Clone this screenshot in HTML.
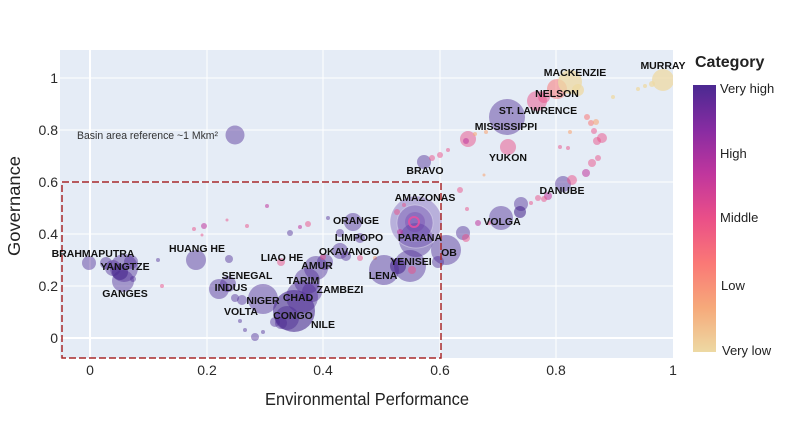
<!DOCTYPE html>
<html><head><meta charset="utf-8"><style>
html,body{margin:0;padding:0;background:#fff;}
svg{display:block;font-family:"Liberation Sans",Arial,sans-serif;}
.P{fill:rgba(80,46,150,0.46);}
.D{fill:rgba(70,38,140,0.58);}
.M{fill:rgba(192,54,157,0.55);}
.K{fill:rgba(234,79,136,0.5);}
.S{fill:rgba(250,120,118,0.55);}
.O{fill:rgba(246,169,122,0.6);}
.Y{fill:rgba(237,217,163,0.75);}
.lb{font-weight:bold;font-size:10.5px;fill:#111;text-anchor:middle;}
.tk{font-size:14px;fill:#2a2a2a;}
</style></head><body>
<svg width="800" height="427" viewBox="0 0 800 427" xmlns="http://www.w3.org/2000/svg">
<defs>
<linearGradient id="cb" x1="0" y1="0" x2="0" y2="1">
<stop offset="0" stop-color="#4b2991"/>
<stop offset="0.1667" stop-color="#872ca2"/>
<stop offset="0.3333" stop-color="#c0369d"/>
<stop offset="0.5" stop-color="#ea4f88"/>
<stop offset="0.6667" stop-color="#fa7876"/>
<stop offset="0.8333" stop-color="#f6a97a"/>
<stop offset="1" stop-color="#edd9a3"/>
</linearGradient>
<clipPath id="pc"><rect x="60" y="50" width="613" height="308"/></clipPath>
</defs>
<rect x="60" y="50" width="613" height="308" fill="#e5ecf6"/>
<g stroke="#fff" stroke-width="1">
<line x1="90" y1="50" x2="90" y2="358" stroke-width="2"/>
<line x1="207" y1="50" x2="207" y2="358"/>
<line x1="323" y1="50" x2="323" y2="358"/>
<line x1="440" y1="50" x2="440" y2="358"/>
<line x1="556" y1="50" x2="556" y2="358"/>
<line x1="60" y1="338" x2="673" y2="338" stroke-width="2"/>
<line x1="60" y1="286" x2="673" y2="286"/>
<line x1="60" y1="234" x2="673" y2="234"/>
<line x1="60" y1="182" x2="673" y2="182"/>
<line x1="60" y1="130" x2="673" y2="130"/>
<line x1="60" y1="78" x2="673" y2="78"/>
</g>
<g clip-path="url(#pc)">
<!-- left cluster -->
<circle class="P" cx="89" cy="263" r="7"/>
<circle class="P" cx="106" cy="263" r="6"/>
<circle class="P" cx="113" cy="268" r="8"/>
<circle class="P" cx="124" cy="268" r="14"/>
<circle class="P" cx="123" cy="281" r="11"/>
<circle class="P" cx="131" cy="262" r="7"/>
<circle class="P" cx="133" cy="279" r="3"/>
<circle class="D" cx="120" cy="272" r="8"/>
<circle class="P" cx="158" cy="260" r="2"/>
<circle class="K" cx="162" cy="286" r="2"/>
<circle class="P" cx="196" cy="260" r="10"/>
<circle class="P" cx="229" cy="259" r="4"/>
<circle class="K" cx="194" cy="229" r="2"/>
<circle class="M" cx="204" cy="226" r="3"/>
<circle class="K" cx="202" cy="235" r="1.5"/>
<circle class="K" cx="227" cy="220" r="1.5"/>
<circle class="K" cx="247" cy="226" r="2"/>
<circle class="M" cx="267" cy="206" r="2"/>
<!-- Indus / Niger / Congo -->
<circle class="P" cx="219" cy="289" r="10"/>
<circle class="P" cx="228" cy="284" r="8"/>
<circle class="P" cx="235" cy="298" r="4"/>
<circle class="P" cx="242" cy="300" r="5"/>
<circle class="P" cx="263" cy="299" r="15"/>
<circle class="P" cx="240" cy="321" r="2"/>
<circle class="P" cx="245" cy="330" r="2"/>
<circle class="P" cx="255" cy="337" r="4"/>
<circle class="P" cx="263" cy="332" r="2"/>
<circle class="P" cx="275" cy="322" r="5"/>
<circle class="P" cx="281" cy="323" r="6"/>
<circle class="P" cx="287" cy="318" r="12"/>
<circle class="D" cx="294" cy="311" r="21"/>
<circle class="P" cx="302" cy="297" r="16"/>
<circle class="P" cx="307" cy="281" r="13"/>
<circle class="P" cx="316" cy="268" r="12"/>
<circle class="P" cx="325" cy="262" r="8"/>
<circle class="P" cx="312" cy="292" r="10"/>
<circle class="K" cx="281" cy="262" r="4"/>
<circle class="P" cx="290" cy="233" r="3"/>
<circle class="M" cx="300" cy="227" r="2"/>
<circle class="K" cx="308" cy="224" r="3"/>
<circle class="K" cx="323" cy="257" r="3"/>
<!-- Orange / Limpopo / Okavango -->
<circle class="P" cx="353" cy="222" r="9"/>
<circle class="P" cx="340" cy="233" r="4"/>
<circle class="P" cx="328" cy="218" r="2"/>
<circle class="P" cx="360" cy="238" r="5"/>
<circle class="P" cx="340" cy="251" r="8"/>
<circle class="P" cx="346" cy="256" r="5"/>
<circle class="K" cx="360" cy="258" r="3"/>
<circle class="O" cx="375" cy="258" r="2"/>
<!-- Lena / Yenisei / Parana / Amazonas -->
<circle class="P" cx="384" cy="270" r="15"/>
<circle class="P" cx="410" cy="266" r="16"/>
<circle class="D" cx="398" cy="266" r="8"/>
<circle class="P" cx="416" cy="240" r="17"/>
<circle fill="rgba(110,80,175,0.38)" stroke="rgba(255,255,255,0.35)" stroke-width="1" cx="416" cy="222" r="26"/>
<circle fill="rgba(100,66,168,0.35)" stroke="rgba(255,255,255,0.3)" stroke-width="1" cx="415" cy="223" r="18"/>
<circle fill="rgba(110,60,170,0.35)" cx="415" cy="222" r="10"/>
<circle cx="414" cy="222" r="5" fill="none" stroke="rgba(234,79,160,0.85)" stroke-width="2"/>
<circle class="K" cx="397" cy="212" r="3"/>
<circle class="K" cx="404" cy="205" r="2"/>
<circle class="M" cx="400" cy="232" r="3"/>
<circle class="K" cx="412" cy="270" r="4"/>
<!-- Ob / Volga / Danube -->
<circle class="P" cx="446" cy="250" r="15"/>
<circle class="P" cx="438" cy="262" r="6"/>
<circle class="P" cx="463" cy="233" r="7"/>
<circle class="K" cx="466" cy="238" r="4"/>
<circle class="M" cx="478" cy="223" r="3"/>
<circle class="K" cx="467" cy="209" r="2"/>
<circle class="K" cx="460" cy="190" r="3"/>
<circle class="P" cx="501" cy="218" r="12"/>
<circle class="P" cx="521" cy="204" r="7"/>
<circle class="D" cx="520" cy="212" r="6"/>
<circle class="K" cx="489" cy="223" r="2"/>
<circle class="K" cx="531" cy="203" r="2"/>
<circle class="K" cx="538" cy="198" r="3"/>
<circle class="M" cx="548" cy="196" r="4"/>
<circle class="K" cx="544" cy="199" r="3"/>
<circle class="P" cx="563" cy="184" r="8"/>
<circle class="K" cx="572" cy="180" r="5"/>
<circle class="M" cx="586" cy="173" r="4"/>
<circle class="K" cx="592" cy="163" r="4"/>
<circle class="K" cx="598" cy="158" r="3"/>
<!-- Bravo / Mississippi -->
<circle class="P" cx="424" cy="162" r="7"/>
<circle class="K" cx="432" cy="158" r="3"/>
<circle class="K" cx="440" cy="155" r="3"/>
<circle class="K" cx="448" cy="150" r="2"/>
<circle class="K" cx="468" cy="139" r="8"/>
<circle class="M" cx="466" cy="141" r="3"/>
<circle class="O" cx="475" cy="134" r="2"/>
<circle class="P" cx="507" cy="117" r="18"/>
<circle class="K" cx="508" cy="147" r="8"/>
<circle class="O" cx="486" cy="132" r="2"/>
<circle class="O" cx="484" cy="175" r="1.5"/>
<circle class="K" cx="537" cy="101" r="10"/>
<circle class="K" cx="544" cy="97" r="6"/>
<circle class="S" cx="557" cy="89" r="10"/>
<circle class="Y" cx="570" cy="82" r="12"/>
<circle class="Y" cx="578" cy="90" r="6"/>
<circle class="S" cx="587" cy="117" r="3"/>
<circle class="S" cx="591" cy="123" r="3"/>
<circle class="O" cx="596" cy="122" r="3"/>
<circle class="K" cx="594" cy="131" r="3"/>
<circle class="K" cx="602" cy="138" r="5"/>
<circle class="K" cx="597" cy="141" r="4"/>
<circle class="O" cx="570" cy="132" r="2"/>
<circle class="K" cx="568" cy="148" r="2"/>
<circle class="K" cx="560" cy="147" r="2"/>
<circle class="Y" cx="613" cy="97" r="2"/>
<circle class="Y" cx="638" cy="89" r="2"/>
<circle class="Y" cx="645" cy="86" r="2"/>
<circle class="Y" cx="652" cy="84" r="3"/>
<circle class="Y" cx="663" cy="80" r="11"/>
<!-- reference -->
<circle class="P" cx="235" cy="135" r="9.5"/>
</g>
<rect x="62" y="182" width="379" height="176" fill="none" stroke="#a8282a" stroke-width="1.5" stroke-dasharray="7,3"/>
<text x="77" y="139" font-size="11" fill="#333" textLength="141" lengthAdjust="spacingAndGlyphs">Basin area reference ~1 Mkm²</text>
<g class="lb">
<text class="lb" x="93" y="257">BRAHMAPUTRA</text>
<text class="lb" x="125" y="270">YANGTZE</text>
<text class="lb" x="125" y="297">GANGES</text>
<text class="lb" x="197" y="252">HUANG HE</text>
<text class="lb" x="247" y="279">SENEGAL</text>
<text class="lb" x="231" y="291">INDUS</text>
<text class="lb" x="263" y="304">NIGER</text>
<text class="lb" x="241" y="315">VOLTA</text>
<text class="lb" x="282" y="261">LIAO HE</text>
<text class="lb" x="317" y="269">AMUR</text>
<text class="lb" x="303" y="284">TARIM</text>
<text class="lb" x="298" y="301">CHAD</text>
<text class="lb" x="293" y="319">CONGO</text>
<text class="lb" x="323" y="328">NILE</text>
<text class="lb" x="340" y="293">ZAMBEZI</text>
<text class="lb" x="356" y="224">ORANGE</text>
<text class="lb" x="359" y="241">LIMPOPO</text>
<text class="lb" x="349" y="255">OKAVANGO</text>
<text class="lb" x="425" y="201">AMAZONAS</text>
<text class="lb" x="420" y="241">PARANA</text>
<text class="lb" x="411" y="265">YENISEI</text>
<text class="lb" x="383" y="279">LENA</text>
<text class="lb" x="449" y="256">OB</text>
<text class="lb" x="502" y="225">VOLGA</text>
<text class="lb" x="562" y="194">DANUBE</text>
<text class="lb" x="425" y="174">BRAVO</text>
<text class="lb" x="508" y="161">YUKON</text>
<text class="lb" x="506" y="130">MISSISSIPPI</text>
<text class="lb" x="538" y="114">ST. LAWRENCE</text>
<text class="lb" x="557" y="97">NELSON</text>
<text class="lb" x="575" y="76">MACKENZIE</text>
<text class="lb" x="663" y="69">MURRAY</text>
</g>
<!-- y ticks -->
<g class="tk" text-anchor="end">
<text x="58" y="83">1</text>
<text x="58" y="135">0.8</text>
<text x="58" y="187">0.6</text>
<text x="58" y="239">0.4</text>
<text x="58" y="291">0.2</text>
<text x="58" y="343">0</text>
</g>
<g class="tk" text-anchor="middle">
<text x="90" y="375">0</text>
<text x="207" y="375">0.2</text>
<text x="323" y="375">0.4</text>
<text x="440" y="375">0.6</text>
<text x="556" y="375">0.8</text>
<text x="673" y="375">1</text>
</g>
<text x="265" y="405" font-size="17.5" fill="#222" textLength="204" lengthAdjust="spacingAndGlyphs">Environmental Performance</text>
<text transform="translate(20,206) rotate(-90)" text-anchor="middle" font-size="17.5" fill="#222" textLength="100" lengthAdjust="spacingAndGlyphs">Governance</text>
<!-- colorbar -->
<text x="695" y="67" font-size="16" font-weight="bold" fill="#222">Category</text>
<rect x="693" y="85" width="23" height="267" fill="url(#cb)"/>
<g font-size="13" fill="#222">
<text x="720" y="93">Very high</text>
<text x="720" y="158">High</text>
<text x="720" y="222">Middle</text>
<text x="721" y="290">Low</text>
<text x="722" y="355">Very low</text>
</g>
</svg>
</body></html>
